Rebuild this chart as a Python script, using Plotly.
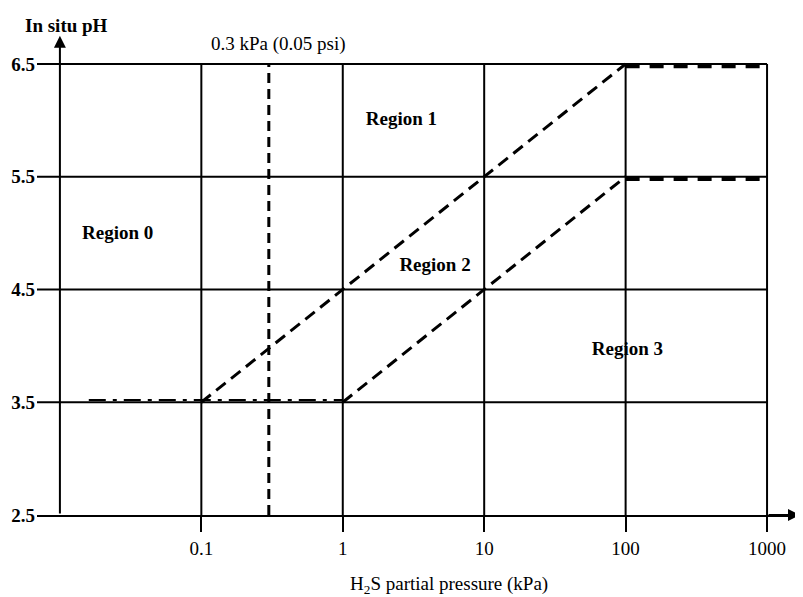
import plotly.graph_objects as go

# Data
x_ticks = [0.1, 1, 10, 100, 1000]
x_ticktext = ["0.1", "1", "10", "100", "1000"]
y_ticks = [2.5, 3.5, 4.5, 5.5, 6.5]
y_ticktext = ["2.5", "3.5", "4.5", "5.5", "6.5"]
grid_v = [0.1, 1, 10, 100, 1000]
grid_h = [3.5, 4.5, 5.5, 6.5]
x_min, x_max = 0.01, 1000
y_min, y_max = 2.5, 6.5
threshold_x = 0.3

boundary1_x = [0.1, 1, 10, 100]
boundary1_y = [3.5, 4.5, 5.5, 6.5]
boundary2_x = [1, 10, 100]
boundary2_y = [3.5, 4.5, 5.5]
plateau_x = [100, 1000]
plateau_top = 6.48
plateau_mid = 5.48
dashdot_x = [0.016, 1]
dashdot_y = 3.52

regions = ["Region 0", "Region 1", "Region 2", "Region 3"]
region_x = [0.0256, 2.60, 4.49, 103]
region_y = [4.99, 6.0, 4.71, 3.96]

FONT = "Liberation Serif, Times New Roman, serif"
FS = 19
left_ext = 10 ** (-2.162)

fig = go.Figure()

def line(x, y, width=2, dash="solid"):
    fig.add_trace(go.Scatter(x=x, y=y, mode="lines", showlegend=False, hoverinfo="skip",
                             line=dict(color="black", width=width, dash=dash)))

for gx in grid_v:
    line([gx, gx], [y_min, y_max], width=2)
for gy in grid_h:
    line([left_ext, x_max], [gy, gy], width=2)

line([threshold_x, threshold_x], [y_min, y_max], width=3, dash="10px,6px")
line(boundary1_x, boundary1_y, width=3, dash="12px,7px")
line(boundary2_x, boundary2_y, width=3, dash="12px,7px")
line(plateau_x, [plateau_top, plateau_top], width=4, dash="14px,10px")
line(plateau_x, [plateau_mid, plateau_mid], width=4, dash="14px,10px")
line(dashdot_x, [dashdot_y, dashdot_y], width=2, dash="17px,7px,4px,7px")

fig.add_trace(go.Scatter(x=region_x, y=region_y, mode="text", text=regions, showlegend=False,
                         hoverinfo="skip", textfont=dict(family=FONT, size=FS, color="black"),
                         texttemplate="<b>%{text}</b>"))

# y axis arrow
fig.add_annotation(x=-2, y=6.75, ax=-2, ay=2.5, xref="x", yref="y", axref="x", ayref="y",
                   showarrow=True, arrowhead=2, arrowsize=1.2, arrowwidth=2, arrowcolor="black", text="")
# x axis arrow
fig.add_annotation(x=3.233, y=2.5, ax=3.0, ay=2.5, xref="x", yref="y", axref="x", ayref="y",
                   showarrow=True, arrowhead=2, arrowsize=1.2, arrowwidth=2, arrowcolor="black", text="")

fig.add_annotation(x=-0.452, y=6.677, xref="x", yref="y", text="0.3 kPa (0.05 psi)", showarrow=False,
                   font=dict(family=FONT, size=FS, color="black"))
fig.add_annotation(x=0.039, y=1.0, xref="paper", yref="paper", xanchor="center", yanchor="middle",
                   yshift=10, text="<b>In situ pH</b>", showarrow=False,
                   font=dict(family=FONT, size=FS, color="black"))
fig.add_annotation(x=0.54, y=0, xref="paper", yref="paper", xanchor="center", yanchor="top",
                   yshift=-56, text="H<sub>2</sub>S partial pressure (kPa)", showarrow=False,
                   font=dict(family=FONT, size=FS, color="black"))

fig.update_xaxes(type="log", range=[-2.162, 3.233], showgrid=False, zeroline=False,
                 tickvals=x_ticks, ticktext=x_ticktext, ticks="outside", ticklen=15, tickwidth=2,
                 tickcolor="black", showline=True, linewidth=2, linecolor="black",
                 tickfont=dict(family=FONT, size=FS, color="black"))
fig.update_yaxes(range=[2.5, 6.757], showgrid=False, zeroline=False, showline=False, ticks="",
                 tickvals=y_ticks, ticktext=["<b>%s</b>" % t for t in y_ticktext],
                 tickfont=dict(family=FONT, size=FS, color="black"), ticklabelstandoff=1)

fig.update_layout(width=795, height=589, margin=dict(l=27, r=3, t=27, b=82),
                  plot_bgcolor="white", paper_bgcolor="white", font=dict(family=FONT))

fig.write_html("out.html")
